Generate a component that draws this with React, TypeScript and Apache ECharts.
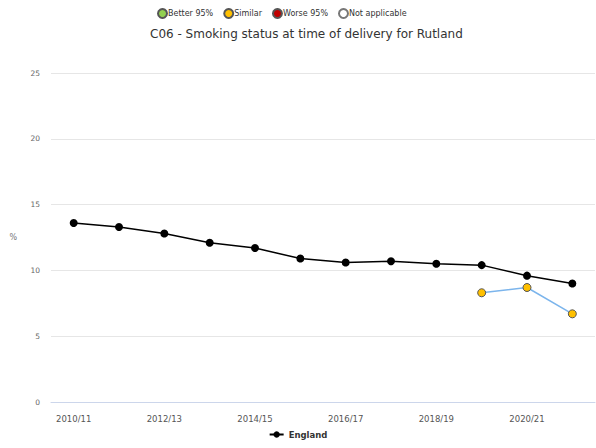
import React, { useEffect, useRef } from "react";
import * as echarts from "echarts";

const categories = [
  "2010/11", "2011/12", "2012/13", "2013/14", "2014/15", "2015/16",
  "2016/17", "2017/18", "2018/19", "2019/20", "2020/21", "2021/22",
];
const englandValues = [13.6, 13.3, 12.8, 12.1, 11.7, 10.9, 10.6, 10.7, 10.5, 10.4, 9.6, 9.0];
const rutlandValues: (number | null)[] = [null, null, null, null, null, null, null, null, null, 8.3, 8.7, 6.7];
const yTicks = { min: 0, max: 25, interval: 5 };
const keyNames = ["Better 95%", "Similar", "Worse 95%", "Not applicable"];
const keyColors = ["#92d050", "#ffc000", "#c00000", "#ffffff"];

const FONT = "'DejaVu Sans', 'Noto Sans', sans-serif";

export default function App() {
  const ref = useRef<HTMLDivElement>(null);
  useEffect(() => {
    if (!ref.current) return;
    const chart = echarts.init(ref.current, null, { renderer: "svg" });
    const keySeries = keyNames.map((name, i) => ({
      name,
      type: "line" as const,
      data: [] as number[],
      symbol: "circle",
      itemStyle: { color: keyColors[i], borderColor: i === 3 ? "#777" : "#555", borderWidth: 0.8 },
      lineStyle: { width: 0 },
    }));
    chart.setOption({
      animation: false,
      backgroundColor: "#ffffff",
      textStyle: { fontFamily: FONT },
      title: {
        text: "C06 - Smoking status at time of delivery for Rutland",
        left: 145,
        top: 23,
        textStyle: { fontFamily: FONT, fontSize: 12, fontWeight: "normal", color: "#333" },
      },
      legend: [
        {
          data: keyNames.map((n) => ({ name: n, icon: "circle" })),
          top: 3,
          left: 152,
          itemWidth: 9,
          itemHeight: 9,
          itemGap: 10,
          selectedMode: false,
          textStyle: { fontFamily: FONT, fontSize: 8, color: "#333", padding: [0, 0, 0, -4] },
        },
        {
          data: [{ name: "England" }],
          bottom: 4,
          left: "center",
          itemWidth: 14,
          itemHeight: 8,
          selectedMode: false,
          textStyle: { fontFamily: FONT, fontSize: 8.5, fontWeight: "bold", color: "#333" },
        },
      ],
      grid: { left: 51, right: 1, top: 73, bottom: 46 },
      xAxis: {
        type: "category",
        data: categories,
        boundaryGap: true,
        axisLine: { lineStyle: { color: "#ccd6eb" } },
        axisTick: { alignWithLabel: true, interval: 0, length: 4, lineStyle: { color: "#ccd6eb" } },
        axisLabel: { interval: 1, fontSize: 8.5, color: "#555", margin: 12, fontFamily: FONT },
      },
      yAxis: {
        type: "value",
        min: yTicks.min,
        max: yTicks.max,
        interval: yTicks.interval,
        name: "%",
        nameLocation: "middle",
        nameRotate: 0,
        nameGap: 34,
        nameTextStyle: { fontSize: 8, color: "#777", fontFamily: FONT },
        axisLine: { show: false },
        axisTick: { show: false },
        axisLabel: { fontSize: 7.5, color: "#666", margin: 11, fontFamily: FONT },
        splitLine: { lineStyle: { color: "#e6e6e6" } },
      },
      series: [
        {
          name: "England",
          type: "line",
          data: englandValues,
          symbol: "circle",
          symbolSize: 8,
          itemStyle: { color: "#000000" },
          lineStyle: { color: "#000000", width: 1.5 },
          z: 3,
        },
        {
          name: "Rutland",
          type: "line",
          data: rutlandValues,
          symbol: "circle",
          symbolSize: 8,
          itemStyle: { color: "#ffc000", borderColor: "#555", borderWidth: 1 },
          lineStyle: { color: "#7cb5ec", width: 1.5 },
          z: 2,
        },
        ...keySeries,
      ],
    });
    return () => chart.dispose();
  }, []);
  return (
    <div
      ref={ref}
      style={{ position: "fixed", left: 0, top: 0, width: 596, height: 448 }}
    />
  );
}
